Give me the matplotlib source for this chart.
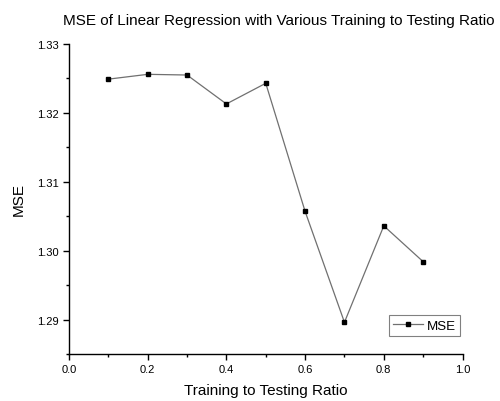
import matplotlib
matplotlib.use("Agg")
import matplotlib.pyplot as plt
from matplotlib.ticker import MultipleLocator

plt.rcParams["font.family"] = ["Liberation Sans", "DejaVu Sans"]

ratio = [0.1, 0.2, 0.3, 0.4, 0.5, 0.6, 0.7, 0.8, 0.9]
mse = [1.3249, 1.3256, 1.3255, 1.3213, 1.3243, 1.3057, 1.2896, 1.3036, 1.2984]

fig = plt.figure(figsize=(5, 4.02), dpi=100)
ax = fig.add_axes([0.138, 0.117, 0.787, 0.771])

ax.plot(ratio, mse, color="#707070", lw=0.9, marker="s", ms=3,
        mfc="black", mec="black", label="MSE")

ax.set_xlim(0, 1.0)
ax.set_ylim(1.285, 1.33)
ax.xaxis.set_major_locator(MultipleLocator(0.2))
ax.xaxis.set_minor_locator(MultipleLocator(0.1))
ax.yaxis.set_major_locator(MultipleLocator(0.01))
ax.yaxis.set_minor_locator(MultipleLocator(0.005))
ax.xaxis.set_major_formatter(plt.FormatStrFormatter("%.1f"))
ax.yaxis.set_major_formatter(plt.FormatStrFormatter("%.2f"))

ax.spines["top"].set_visible(False)
ax.spines["right"].set_visible(False)
for s in ("left", "bottom"):
    ax.spines[s].set_linewidth(1.0)
ax.tick_params(which="major", direction="out", length=4, width=1, labelsize=8)
ax.tick_params(which="minor", direction="out", length=2.5, width=1)

ax.set_xlabel("Training to Testing Ratio", fontsize=11, labelpad=6)
ax.set_ylabel("MSE", fontsize=11, labelpad=8)
fig.text(0.557, 0.948,
         "MSE of Linear Regression with Various Training to Testing Ratio",
         fontsize=11, ha="center", va="center")

leg = ax.legend(loc="lower right", bbox_to_anchor=(1.0, 0.05), fontsize=9.6,
                fancybox=False, edgecolor="#808080", framealpha=1,
                handlelength=2.2, borderpad=0.3, handletextpad=0.3,
                borderaxespad=0.2)
leg.get_frame().set_linewidth(0.8)

fig.savefig("out.png", dpi=100)
